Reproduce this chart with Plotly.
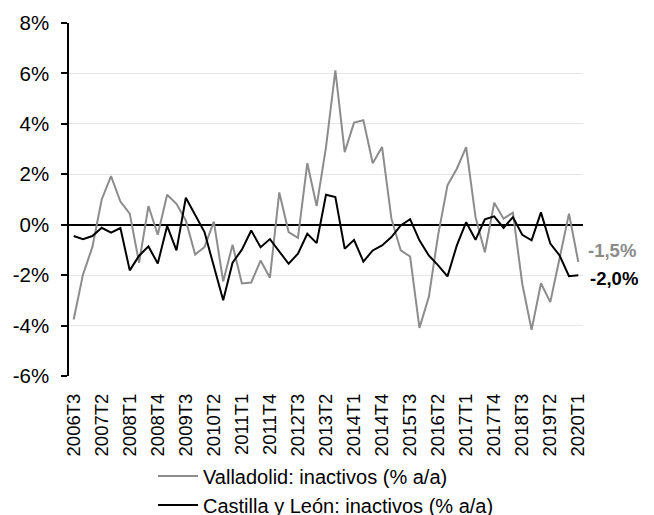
import plotly.graph_objects as go

# Quarterly categories 2006T3 .. 2020T1
quarters = [f"{y}T{q}" for y in range(2006, 2021) for q in range(1, 5)]
quarters = quarters[quarters.index("2006T3"):quarters.index("2020T1") + 1]
tick_labels = quarters[::3]

valladolid = [-3.76, -1.97, -0.89, 1.00, 1.93, 0.92, 0.44, -1.51, 0.74, -0.40,
              1.19, 0.83, 0.17, -1.18, -0.89, 0.12, -2.25, -0.79, -2.33, -2.29,
              -1.42, -2.10, 1.28, -0.29, -0.52, 2.44, 0.74, 3.08, 6.12, 2.88,
              4.05, 4.14, 2.44, 3.08, 0.24, -1.02, -1.26, -4.09, -2.87, -0.40,
              1.56, 2.22, 3.08, 0.30, -1.09, 0.87, 0.24, 0.48, -2.34, -4.17,
              -2.32, -3.07, -1.32, 0.44, -1.48]

castilla = [-0.45, -0.57, -0.45, -0.12, -0.31, -0.13, -1.81, -1.23, -0.86, -1.54,
            -0.05, -1.02, 1.07, 0.41, -0.29, -1.65, -3.00, -1.51, -0.99, -0.23,
            -0.89, -0.57, -1.05, -1.55, -1.15, -0.36, -0.73, 1.19, 1.10, -0.95,
            -0.60, -1.46, -1.02, -0.82, -0.49, -0.03, 0.22, -0.62, -1.22, -1.61,
            -2.05, -0.82, 0.10, -0.60, 0.21, 0.33, -0.13, 0.30, -0.40, -0.62,
            0.49, -0.75, -1.22, -2.04, -2.00]

y_ticks = [-6, -4, -2, 0, 2, 4, 6, 8]

GRAY = '#8C8C8C'
FONT = 'Arial, Liberation Sans, sans-serif'

fig = go.Figure()

fig.add_trace(go.Scatter(
    x=quarters, y=valladolid, mode='lines',
    name='Valladolid: inactivos (% a/a)',
    line=dict(color=GRAY, width=2),
))
fig.add_trace(go.Scatter(
    x=quarters, y=castilla, mode='lines',
    name='Castilla y León: inactivos (% a/a)',
    line=dict(color='black', width=2),
))


def fmt(v):
    return f"{v:.1f}%".replace('.', ',')


# End-of-series labels
fig.add_annotation(x=quarters[-1], y=valladolid[-1], text=f"<b>{fmt(valladolid[-1])}</b>",
                   showarrow=False, xanchor='left', yanchor='middle',
                   xshift=8, yshift=12, font=dict(size=18.5, color=GRAY, family=FONT))
fig.add_annotation(x=quarters[-1], y=castilla[-1], text=f"<b>{fmt(castilla[-1])}</b>",
                   showarrow=False, xanchor='left', yanchor='middle',
                   xshift=10, yshift=-3, font=dict(size=18.5, color='black', family=FONT))

fig.update_layout(
    width=654, height=515,
    paper_bgcolor='white', plot_bgcolor='white',
    margin=dict(l=61, r=79, t=15, b=147, pad=0, autoexpand=False),
    font=dict(family=FONT, size=18, color='black'),
    showlegend=True,
    legend=dict(
        orientation='v', x=0.5, xanchor='center', y=-0.228, yanchor='top',
        font=dict(size=20, color='black', family=FONT),
        bgcolor='rgba(0,0,0,0)', tracegroupgap=0, itemwidth=40,
    ),
    xaxis=dict(
        type='category', categoryorder='array', categoryarray=quarters,
        range=[-0.5, len(quarters) - 0.5],
        tickmode='array', tickvals=tick_labels, ticktext=tick_labels,
        tickangle=-90, tickfont=dict(size=18.5, family=FONT),
        showgrid=False, zeroline=False, showline=False, ticks='',
        ticklabelstandoff=13,
    ),
    yaxis=dict(
        range=[-6, 8],
        tickmode='array', tickvals=y_ticks, ticktext=[f"{v}%" for v in y_ticks],
        tickfont=dict(size=20.5, family=FONT),
        showgrid=True, gridcolor='#E6E6E6', gridwidth=1,
        zeroline=True, zerolinecolor='black', zerolinewidth=1.5,
        showline=True, linecolor='black', linewidth=1.5,
        ticks='outside', ticklen=6, tickcolor='black', tickwidth=1.5,
        ticklabelstandoff=8,
    ),
)

fig.write_html("out.html")
